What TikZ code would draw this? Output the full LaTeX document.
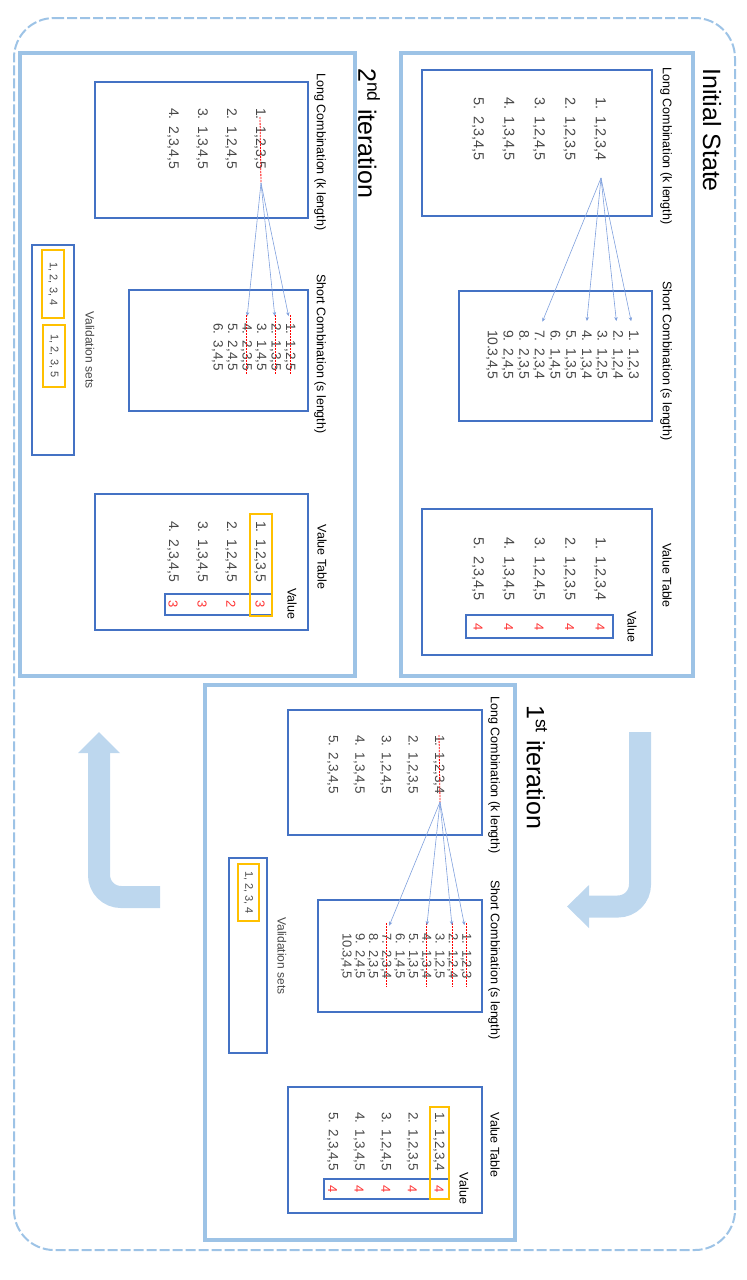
\documentclass[tikz,border=0pt]{standalone}
\usepackage{fontspec}
\setmainfont{Liberation Sans}
\usetikzlibrary{shapes,arrows.meta}

\definecolor{paleblue}{HTML}{9DC3E6}
\definecolor{arrowblue}{HTML}{BDD7EE}
\definecolor{boxblue}{HTML}{4472C4}
\definecolor{linkblue}{HTML}{7FA0DD}
\definecolor{pickyellow}{HTML}{FFC000}
\definecolor{valred}{HTML}{FF3333}
\definecolor{itemgray}{HTML}{474747}

\newcommand{\entrynum}[2]{\makebox[1.3em][l]{#1.}#2}

\tikzset{
  stateframe/.style={shape=rectangle, draw=paleblue, line width=4pt},
  listbox/.style={shape=rectangle, draw=boxblue, line width=1.5pt, inner sep=0pt},
  pickbox/.style={shape=rectangle, draw=pickyellow, line width=1.5pt, inner sep=0pt, text=itemgray, font=\fontsize{11}{12}\selectfont},
  frametitle/.style={anchor=west, inner sep=0pt, font=\fontsize{25}{28}\selectfont},
  boxlabel/.style={inner sep=0pt, font=\fontsize{12.5}{14}\selectfont},
  entrytext/.style={anchor=west, inner sep=0pt, text=itemgray, font=\fontsize{#1}{#1}\selectfont},
  entrytext/.default=14,
  redval/.style={inner sep=0pt, text=valred, font=\fontsize{13}{14}\selectfont},
  linkarrow/.style={draw=linkblue, line width=0.6pt, -{Stealth[length=4pt,width=3.5pt]}},
  strikeout/.style={draw=red, line width=0.8pt, dash pattern=on 2pt off 1pt},
  bigshaft/.style={draw=arrowblue, line width=22pt, rounded corners=22pt},
  bighead/.style={fill=arrowblue},
}

\begin{document}
\begin{tikzpicture}[x=1pt, y=1pt]
\useasboundingbox (0,0) rectangle (747,-1280);
% the whole sheet is laid out sideways
\begin{scope}[rotate=-90, transform shape]

\draw[draw=paleblue, line width=2pt, dash pattern=on 10pt off 3pt, rounded corners=40pt] (18,14) rectangle (1250,735);

\node[name=init, stateframe, minimum width=623pt, minimum height=292pt] at (364.5,547) {};
\node[name=second, stateframe, minimum width=623pt, minimum height=335pt] at (364.5,187.5) {};
\node[name=first, stateframe, minimum width=555pt, minimum height=310pt] at (962.5,360) {};

\node[name=inittitle, frametitle] at (68,712) {Initial State};
\node[name=secondtitle, frametitle] at (68,369) {2\textsuperscript{nd} iteration};
\node[name=firsttitle, frametitle] at (705,537) {1\textsuperscript{st} iteration};

% Initial State
\node[name=initlong, listbox, minimum width=146pt, minimum height=230pt] at (143,537) {};
\node[name=initlonglabel, boxlabel] at (146,666) {Long Combination (k length)};
\foreach \combo [count=\idx] in {{1,2,3,4},{1,2,3,5},{1,2,4,5},{1,3,4,5},{2,3,4,5}}
  {\pgfmathsetmacro\vpos{600-30.5*(\idx-1)}
   \node[name=il\idx, entrytext=14.5] at (97,\vpos) {\entrynum{\idx}{\combo}};}

\node[name=initshort, listbox, minimum width=130pt, minimum height=193pt] at (356,555.5) {};
\node[name=initshortlabel, boxlabel] at (361,666) {Short Combination (s length)};
\foreach \combo [count=\idx] in {{1,2,3},{1,2,4},{1,2,5},{1,3,4},{1,3,5},{1,4,5},{2,3,4},{2,3,5},{2,4,5},{3,4,5}}
  {\pgfmathsetmacro\vpos{633-15.67*(\idx-1)}
   \node[name=is\idx, entrytext] at (330,\vpos) {\entrynum{\idx}{\combo}};}

\node[name=initvalue, listbox, minimum width=146pt, minimum height=230pt] at (582,537) {};
\node[name=initvaluelabel, boxlabel] at (575.5,667) {Value Table};
\node[name=initvalcol, listbox, minimum width=23pt, minimum height=147pt] at (626.5,539.5) {};
\node[name=initvalhead, boxlabel] at (627,632) {Value};
\foreach \combo [count=\idx] in {{1,2,3,4},{1,2,3,5},{1,2,4,5},{1,3,4,5},{2,3,4,5}}
  {\pgfmathsetmacro\vpos{600-30.5*(\idx-1)}
   \node[name=iv\idx, entrytext=14.5] at (537,\vpos) {\entrynum{\idx}{\combo}};
   \node[name=ir\idx, redval] at (627,\vpos) {4};}

\coordinate (initsrc) at (178,601);
\foreach \k in {1,2,4,7}
  \draw[linkarrow, shorten >=9pt] (initsrc) -- (is\k.west);

% 2nd iteration
\node[name=secondlong, listbox, minimum width=136pt, minimum height=213pt] at (150,201.5) {};
\node[name=secondlonglabel, boxlabel] at (152,320) {Long Combination (k length)};
\foreach \combo [count=\idx] in {{1,2,3,5},{1,2,4,5},{1,3,4,5},{2,3,4,5}}
  {\pgfmathsetmacro\vpos{260-29*(\idx-1)}
   \node[name=sl\idx, entrytext] at (108,\vpos) {\entrynum{\idx}{\combo}};}

\node[name=secondshort, listbox, minimum width=121pt, minimum height=179pt] at (350.5,218.5) {};
\node[name=secondshortlabel, boxlabel] at (354,320) {Short Combination (s length)};
\foreach \combo [count=\idx] in {{1,2,5},{1,3,5},{1,4,5},{2,3,5},{2,4,5},{3,4,5}}
  {\pgfmathsetmacro\vpos{290-14.5*(\idx-1)}
   \node[name=ss\idx, entrytext=13.5] at (323,\vpos) {\entrynum{\idx}{\combo}};}

\node[name=secondvalid, listbox, minimum width=210pt, minimum height=42pt] at (350,53) {};
\node[name=secondpickA, pickbox, minimum width=68pt, minimum height=22pt] at (284,53) {1, 2, 3, 4};
\node[name=secondpickB, pickbox, minimum width=62pt, minimum height=22pt] at (356,54) {1, 2, 3, 5};
\node[name=secondvalidlabel, boxlabel, font=\fontsize{12}{14}\selectfont, text=itemgray] at (350,90) {Validation sets};

\node[name=secondvalue, listbox, minimum width=136pt, minimum height=213pt] at (562,201.5) {};
\node[name=secondvaluelabel, boxlabel] at (557,322) {Value Table};
\node[name=secondvalcol, listbox, minimum width=21pt, minimum height=107pt] at (604.5,218.5) {};
\node[name=secondvalhead, boxlabel] at (604,292) {Value};
\foreach \combo/\score [count=\idx] in {{1,2,3,5}/3,{1,2,4,5}/2,{1,3,4,5}/3,{2,3,4,5}/3}
  {\pgfmathsetmacro\vpos{260-29*(\idx-1)}
   \node[name=sv\idx, entrytext] at (521,\vpos) {\entrynum{\idx}{\combo}};
   \node[name=sr\idx, redval] at (604.5,\vpos) {\score};}
\node[name=secondpickrow, pickbox, minimum width=102pt, minimum height=22pt] at (565,261) {};

\coordinate (secondsrc) at (183,261);
\draw[strikeout] ([xshift=9pt]sl1.west) -- (secondsrc);
\foreach \k in {1,2,4}
  {\draw[strikeout] ([xshift=-8pt]ss\k.west) -- ([xshift=4pt]ss\k.east);
   \draw[linkarrow, shorten >=7pt] (secondsrc) -- (ss\k.west);}

% 1st iteration
\node[name=firstlong, listbox, minimum width=125pt, minimum height=194pt] at (772.5,385) {};
\node[name=firstlonglabel, boxlabel] at (775,494) {Long Combination (k length)};
\foreach \combo [count=\idx] in {{1,2,3,4},{1,2,3,5},{1,2,4,5},{1,3,4,5},{2,3,4,5}}
  {\pgfmathsetmacro\vpos{439-26.6*(\idx-1)}
   \node[name=fl\idx, entrytext=13.5] at (735,\vpos) {\entrynum{\idx}{\combo}};}

\node[name=firstshort, listbox, minimum width=112pt, minimum height=164pt] at (956,400) {};
\node[name=firstshortlabel, boxlabel] at (960,494) {Short Combination (s length)};
\foreach \combo [count=\idx] in {{1,2,3},{1,2,4},{1,2,5},{1,3,4},{1,3,5},{1,4,5},{2,3,4},{2,3,5},{2,4,5},{3,4,5}}
  {\pgfmathsetmacro\vpos{466-13.3*(\idx-1)}
   \node[name=fs\idx, entrytext=13] at (933,\vpos) {\entrynum{\idx}{\combo}};}

\node[name=firstvalid, listbox, minimum width=195pt, minimum height=38pt] at (955.5,248) {};
\node[name=firstpick, pickbox, minimum width=57pt, minimum height=21pt] at (892.5,248.5) {1, 2, 3, 4};
\node[name=firstvalidlabel, boxlabel, font=\fontsize{12}{14}\selectfont, text=itemgray] at (956,282) {Validation sets};

\node[name=firstvalue, listbox, minimum width=126pt, minimum height=194pt] at (1150,385) {};
\node[name=firstvaluelabel, boxlabel] at (1145,495) {Value Table};
\node[name=firstvalcol, listbox, minimum width=20pt, minimum height=125pt] at (1189,386.5) {};
\node[name=firstvalhead, boxlabel] at (1188.5,464) {Value};
\foreach \combo [count=\idx] in {{1,2,3,4},{1,2,3,5},{1,2,4,5},{1,3,4,5},{2,3,4,5}}
  {\pgfmathsetmacro\vpos{439-26.6*(\idx-1)}
   \node[name=fv\idx, entrytext=13.5] at (1112,\vpos) {\entrynum{\idx}{\combo}};
   \node[name=fr\idx, redval] at (1189,\vpos) {4};}
\node[name=firstpickrow, pickbox, minimum width=92pt, minimum height=19pt] at (1153,439.5) {};

\coordinate (firstsrc) at (802,440);
\draw[strikeout] (fl1.west) -- (firstsrc);
\foreach \k in {1,2,4,7}
  {\draw[strikeout] ([xshift=-10pt]fs\k.west) -- ([xshift=7pt]fs\k.east);
   \draw[linkarrow, shorten >=8pt] (firstsrc) -- (fs\k.west);}

% turn arrows between the states
\coordinate (downstart) at (732,640);
\coordinate (downbend) at (906.5,640);
\coordinate (downhead) at (906.5,589);
\draw[bigshaft] (downstart) -- (downbend) -- (downhead);
\fill[bighead] (885,589) -- (928,589) -- (906.5,567) -- cycle;
\coordinate (upstart) at (897,160);
\coordinate (upbend) at (897,99);
\coordinate (uphead) at (753,99);
\draw[bigshaft] (upstart) -- (upbend) -- (uphead);
\fill[bighead] (753,78) -- (753,120) -- (732,99) -- cycle;

\end{scope}
\end{tikzpicture}
\end{document}
